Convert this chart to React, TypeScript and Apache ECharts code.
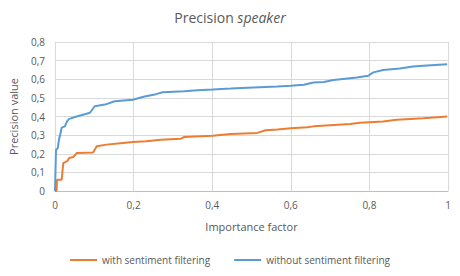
import React, { useEffect, useRef } from "react";
import * as echarts from "echarts";

const titleMain = "Precision";
const titleItalic = "speaker";
const xAxisName = "Importance factor";
const yAxisName = "Precision value";
const seriesNames = ["with sentiment filtering", "without sentiment filtering"];

const orangeX = [0, 0.004, 0.005, 0.017, 0.021, 0.031, 0.036, 0.047, 0.055, 0.097, 0.106, 0.131, 0.173, 0.198, 0.232, 0.27, 0.32, 0.329, 0.401, 0.447, 0.515, 0.536, 0.566, 0.6, 0.642, 0.658, 0.751, 0.776, 0.835, 0.869, 0.937, 0.998];
const orangeY = [0, 0, 0.06, 0.06, 0.15, 0.16, 0.177, 0.183, 0.204, 0.207, 0.24, 0.249, 0.258, 0.263, 0.267, 0.275, 0.281, 0.29, 0.297, 0.306, 0.312, 0.326, 0.33, 0.337, 0.342, 0.347, 0.36, 0.366, 0.373, 0.382, 0.39, 0.4];

const blueX = [0, 0.0025, 0.007, 0.01, 0.014, 0.017, 0.025, 0.031, 0.036, 0.055, 0.089, 0.101, 0.127, 0.152, 0.198, 0.228, 0.257, 0.274, 0.329, 0.363, 0.401, 0.447, 0.49, 0.566, 0.6, 0.633, 0.658, 0.684, 0.709, 0.768, 0.797, 0.81, 0.835, 0.877, 0.911, 0.937, 0.998];
const blueY = [0, 0.22, 0.23, 0.275, 0.31, 0.34, 0.347, 0.375, 0.387, 0.4, 0.42, 0.455, 0.464, 0.482, 0.49, 0.507, 0.52, 0.53, 0.535, 0.541, 0.545, 0.55, 0.555, 0.561, 0.565, 0.571, 0.583, 0.585, 0.596, 0.61, 0.619, 0.637, 0.65, 0.658, 0.668, 0.673, 0.68];

const colors = ["#ED7D31", "#5B9BD5"];
const FONT = "Open Sans";

export default function App() {
  const ref = useRef<HTMLDivElement>(null);
  useEffect(() => {
    if (!ref.current) return;
    const chart = echarts.init(ref.current, null, { renderer: "svg" });
    const pairs = (xs: number[], ys: number[]) => xs.map((x, i) => [x, ys[i]]);
    chart.setOption({
      animation: false,
      color: colors,
      title: {
        text: `${titleMain} {i|${titleItalic}}`,
        left: "center",
        top: 5,
        textStyle: {
          fontFamily: FONT,
          fontSize: 14,
          fontWeight: "normal",
          color: "#595959",
          rich: {
            i: { fontFamily: FONT, fontSize: 14, fontStyle: "italic", color: "#595959" },
          },
        },
      },
      grid: { left: 53, right: 12, top: 42, bottom: 85, containLabel: false },
      xAxis: {
        type: "value",
        min: 0,
        max: 1,
        interval: 0.2,
        name: xAxisName,
        nameLocation: "middle",
        nameGap: 30,
        nameTextStyle: { fontFamily: FONT, fontSize: 11, color: "#595959" },
        axisLine: { show: true, lineStyle: { color: "#bfbfbf" } },
        axisTick: { show: false },
        splitLine: { show: true, lineStyle: { color: "#d9d9d9" } },
        axisLabel: {
          fontFamily: FONT,
          fontSize: 10,
          color: "#595959",
          margin: 9,
          formatter: (v: number) => String(Math.round(v * 10) / 10).replace(".", ","),
        },
      },
      yAxis: {
        type: "value",
        min: 0,
        max: 0.8,
        interval: 0.1,
        name: yAxisName,
        nameLocation: "middle",
        nameGap: 36,
        nameTextStyle: { fontFamily: FONT, fontSize: 11, color: "#595959" },
        axisLine: { show: false },
        axisTick: { show: false },
        splitLine: { show: true, lineStyle: { color: "#d9d9d9" } },
        axisLabel: {
          fontFamily: FONT,
          fontSize: 10,
          color: "#595959",
          margin: 10,
          formatter: (v: number) => String(Math.round(v * 10) / 10).replace(".", ","),
        },
      },
      legend: {
        bottom: 6,
        left: "center",
        icon: "rect",
        itemWidth: 27,
        itemHeight: 2,
        itemGap: 24,
        textStyle: { fontFamily: FONT, fontSize: 10, color: "#595959" },
        data: seriesNames,
      },
      series: [
        {
          name: seriesNames[0],
          type: "line",
          showSymbol: false,
          symbol: "none",
          lineStyle: { width: 2, color: colors[0] },
          data: pairs(orangeX, orangeY),
        },
        {
          name: seriesNames[1],
          type: "line",
          showSymbol: false,
          symbol: "none",
          lineStyle: { width: 2, color: colors[1] },
          data: pairs(blueX, blueY),
        },
      ],
    });
    return () => chart.dispose();
  }, []);
  return <div ref={ref} style={{ width: 460, height: 276, marginLeft: -8, marginTop: -8 }} />;
}
